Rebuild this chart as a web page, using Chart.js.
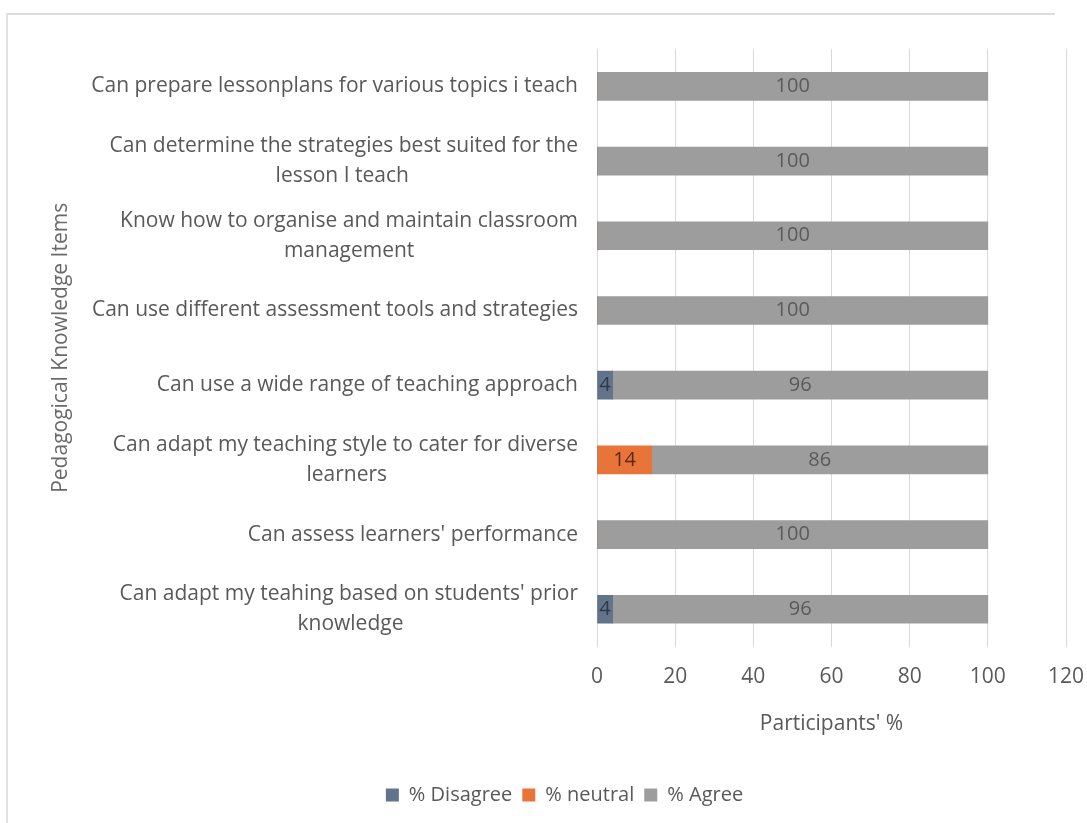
<!DOCTYPE html>
<html>
<head>
<meta charset="utf-8">
<title>Pedagogical Knowledge Items</title>
<script src="https://cdn.jsdelivr.net/npm/chart.js@4.4.1/dist/chart.umd.min.js"></script>
<style>
    html, body { margin: 0; padding: 0; background: #fff; }
    #wrap { position: relative; width: 1087px; height: 823px; }
    #frame {
        position: absolute; left: 6px; top: 13px; width: 1047px; height: 810px;
        border-top: 2px solid #dcdcdc; border-left: 2px solid #e2e2e2;
        pointer-events: none;
    }
</style>
</head>
<body>
<div id="wrap">
    <canvas id="chart" width="1087" height="823"></canvas>
    <div id="frame"></div>
</div>
<script>
// Survey items (top to bottom)
const items = [
    ['Can prepare lessonplans for various topics i teach'],
    ['Can determine the strategies best suited for the', 'lesson I teach'],
    ['Know how to organise and maintain classroom', 'management'],
    ['Can use different assessment tools and strategies'],
    ['Can use a wide range of teaching approach'],
    ['Can adapt my teaching style to cater for diverse', 'learners'],
    ["Can assess learners' performance"],
    ["Can adapt my teahing based on students' prior", 'knowledge']
];

// Responses per item, in percent
const disagree = [0, 0, 0, 0, 4, 0, 0, 4];
const neutral  = [0, 0, 0, 0, 0, 14, 0, 0];
const agree    = [100, 100, 100, 100, 96, 86, 100, 96];

const seriesNames = ['% Disagree', '% neutral', '% Agree'];

const FONT = "'Open Sans', sans-serif";
const LABEL_SIZE = 21;
const TEXT = '#595959';

// Centre the wrapped lines under the first line by padding with spaces
const measureCtx = document.createElement('canvas').getContext('2d');
measureCtx.font = LABEL_SIZE + 'px ' + FONT;
function centerLines(lines) {
    if (lines.length === 1) return lines[0];
    const full = measureCtx.measureText(lines[0]).width;
    const space = measureCtx.measureText(' ').width;
    return lines.map(l => {
        const gap = (full - measureCtx.measureText(l).width) / 2;
        return l + ' '.repeat(Math.max(0, Math.round(gap / space)));
    });
}
const labels = items.map(centerLines);

// Write the value in the middle of each non-zero segment
const valueLabels = {
    id: 'valueLabels',
    afterDatasetsDraw(chart) {
        const ctx = chart.ctx;
        ctx.save();
        ctx.font = '20px ' + FONT;
        ctx.textAlign = 'center';
        ctx.textBaseline = 'middle';
        chart.data.datasets.forEach((ds, i) => {
            const meta = chart.getDatasetMeta(i);
            meta.data.forEach((bar, j) => {
                const v = ds.data[j];
                if (!v) return;
                const p = bar.getCenterPoint();
                ctx.fillStyle = ds.labelColor;
                ctx.fillText(v, p.x, p.y);
            });
        });
        ctx.restore();
    }
};

new Chart(document.getElementById('chart'), {
    type: 'bar',
    data: {
        labels: labels,
        datasets: [
            { label: seriesNames[0], data: disagree, backgroundColor: '#61748c', labelColor: '#2f3a48' },
            { label: seriesNames[1], data: neutral,  backgroundColor: '#e9743a', labelColor: '#5a2a10' },
            { label: seriesNames[2], data: agree,    backgroundColor: '#9d9d9d', labelColor: '#5a5a5a' }
        ]
    },
    options: {
        indexAxis: 'y',
        responsive: false,
        animation: false,
        datasets: { bar: { barThickness: 28 } },
        layout: { padding: { left: 46, right: 4, top: 47, bottom: 8 } },
        scales: {
            x: {
                stacked: true,
                min: 0,
                max: 120,
                ticks: { stepSize: 20, padding: 18, color: TEXT, font: { family: FONT, size: 21 } },
                grid: { color: '#d9d9d9', drawTicks: false },
                border: { display: false },
                title: {
                    display: true,
                    text: "Participants' %",
                    color: TEXT,
                    font: { family: FONT, size: 21 },
                    padding: { top: 4, bottom: 38 }
                },
                // keep just enough room on the right for the "120" label
                afterFit(scale) { scale.paddingRight = 21; }
            },
            y: {
                stacked: true,
                ticks: { padding: 19, color: TEXT, font: { family: FONT, size: LABEL_SIZE, lineHeight: 1.43 } },
                grid: { display: false, drawTicks: false },
                border: { display: false },
                title: {
                    display: true,
                    text: 'Pedagogical Knowledge Items',
                    color: '#6a6a6a',
                    font: { family: FONT, size: 21 },
                    padding: { top: 2, bottom: 4 }
                },
                afterFit(scale) { scale.width = 551; }
            }
        },
        plugins: {
            legend: {
                position: 'bottom',
                labels: {
                    boxWidth: 13,
                    boxHeight: 13,
                    color: TEXT,
                    font: { family: FONT, size: 20 }
                }
            },
            tooltip: { enabled: false }
        }
    },
    plugins: [valueLabels]
});
</script>
</body>
</html>
